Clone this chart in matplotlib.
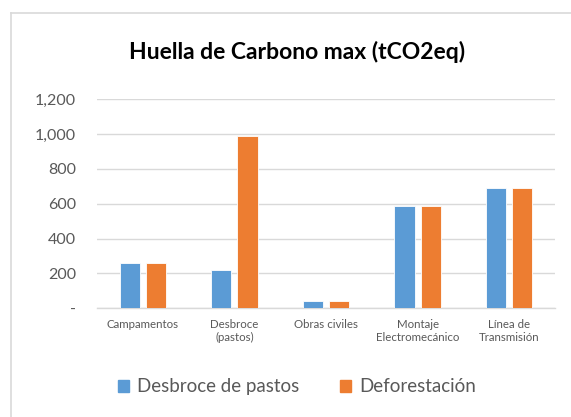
import numpy as np
import matplotlib.pyplot as plt
from matplotlib.patches import Rectangle
from matplotlib.lines import Line2D

categorias = ['Campamentos', 'Desbroce\n(pastos)', 'Obras civiles',
              'Montaje\nElectromecánico', 'Línea de\nTransmisión']
desbroce = [260, 218, 40, 585, 690]
deforestacion = [260, 988, 40, 585, 690]
series = ['Desbroce de pastos', 'Deforestación']

azul = '#5B9BD5'
naranja = '#ED7D31'
gris = '#595959'

plt.rcParams['font.family'] = ['Lato', 'DejaVu Sans']

fig = plt.figure(figsize=(5.71, 4.17), dpi=100)
ax = fig.add_axes([0.170, 0.261, 0.802, 0.501])

x = np.arange(len(categorias))
w = 0.22
ax.bar(x - 0.143, desbroce, w, color=azul, edgecolor='white', linewidth=0.6, zorder=3)
ax.bar(x + 0.143, deforestacion, w, color=naranja, edgecolor='white', linewidth=0.6, zorder=3)

ax.set_xlim(-0.5, 4.5)
ax.set_ylim(0, 1200)
yt = [0, 200, 400, 600, 800, 1000, 1200]
ax.set_yticks(yt)
ax.set_yticklabels(['-' if v == 0 else f'{v:,}' for v in yt])
ax.grid(axis='y', color='#D9D9D9', linewidth=1, zorder=0)
ax.set_xticks(x)
ax.set_xticklabels(categorias, fontsize=8.3, color=gris, linespacing=1.2)
ax.tick_params(axis='y', labelsize=11.5, colors=gris, length=0, pad=15)
ax.tick_params(axis='x', length=0, pad=8)
for s in ['top', 'right', 'left']:
    ax.spines[s].set_visible(False)
ax.spines['bottom'].set_color('#D9D9D9')
ax.spines['bottom'].set_linewidth(1)

fig.text(0.52, 0.875, 'Huella de Carbono max (tCO2eq)', ha='center', va='center',
         fontsize=16.5, fontweight='bold', color='black')

handles = [Rectangle((0, 0), 1, 1, color=azul), Rectangle((0, 0), 1, 1, color=naranja)]
fig.legend(handles, series, loc='center', bbox_to_anchor=(0.52, 0.072), ncol=2,
           frameon=False, fontsize=13.5, handlelength=0.6, handleheight=0.6,
           columnspacing=2.2, handletextpad=0.4, labelcolor=gris)

# borde del grafico
fig.add_artist(Line2D([0.019, 1.0], [0.969, 0.969], color='#D9D9D9', linewidth=1.2))
fig.add_artist(Line2D([0.019, 0.019], [0.0, 0.969], color='#D9D9D9', linewidth=1.2))

fig.savefig('out.png', dpi=100)
